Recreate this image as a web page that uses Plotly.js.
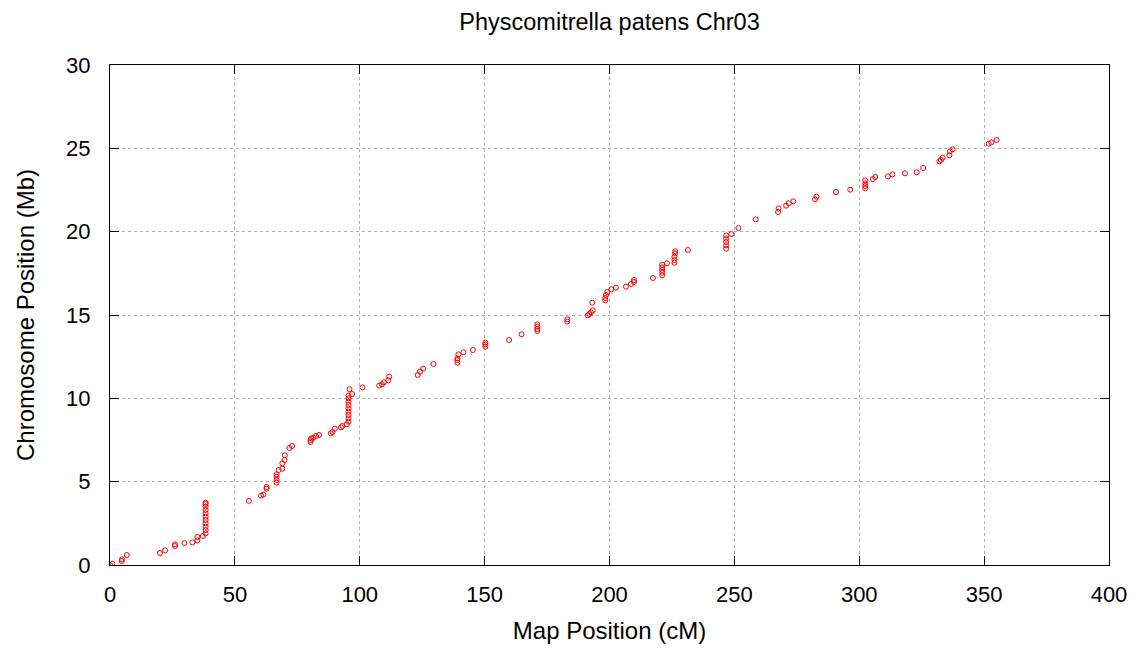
<!DOCTYPE html>
<html><head><meta charset="utf-8">
<script src="https://cdn.plot.ly/plotly-3.0.1.min.js"></script>
<style>html,body{margin:0;padding:0;background:#fff}#chart{width:1136px;height:650px}</style>
</head><body><div id="chart"></div>
<script>
const mapPos = [
 0, 1, 4.7, 4.8, 6.7, 20, 22.1, 26, 26, 29.8, 33, 35, 35, 37.2,
 38.3, 38.3, 38.3, 38.3, 38.3, 38.3, 38.3, 38.3, 38.3, 38.3, 38.3,
 55.6, 60.5, 61.4, 62.7, 62.7, 66.7, 66.7, 66.7, 66.7, 67.5, 69, 69, 69.9, 70, 71.8, 72.9,
 80.3, 80.3, 80.6, 81.4, 82.5, 83.7, 88.4, 89.1, 90, 92.5, 93, 94.8,
 95.5, 95.5, 95.5, 95.5, 95.5, 95.5, 95.5, 95.5, 95.5, 96.9, 95.9, 101.1, 107.8,
 108.9, 109.7, 111.4, 111.8, 123.2, 124.1, 125.4, 129.5,
 139.1, 139.1, 139.1, 139.5, 141.5, 145.3, 150.3, 150.3, 150.3, 159.8, 164.8,
 171.1, 171.1, 171.1, 171.1, 183.1, 183.1,
 191.3, 191.9, 192.6, 193.3, 193.1, 198.3, 198.3, 198.6, 199.1, 200.7, 202.6, 206.6,
 208.6, 209.8, 209.8, 217.4, 221.1, 221.1, 221.1, 221.1, 221.1, 223, 226, 226, 226, 226.3, 226.3, 231.4,
 246.7, 246.7, 246.7, 246.7, 246.7, 248.8, 251.6, 258.5, 267.5, 267.7, 270.7, 271.8, 273.6,
 282.3, 282.9, 290.7, 296.4, 302.4, 302.4, 302.4, 302.4, 305.4, 306.4, 311.5, 313.3, 318.3,
 323, 325.6, 332.1, 332.7, 333.4, 336.1, 336.3, 337.4, 351.8, 352.9, 355
];
const chromPos = [
 0, 0.08, 0.24, 0.34, 0.6, 0.72, 0.88, 1.14, 1.24, 1.32, 1.36, 1.48, 1.68, 1.74,
 1.9, 2.1, 2.3, 2.5, 2.7, 2.9, 3.1, 3.3, 3.5, 3.66, 3.74,
 3.85, 4.16, 4.22, 4.58, 4.68, 4.94, 5.1, 5.3, 5.44, 5.7, 5.78, 6.1, 6.3, 6.58, 7.02, 7.14,
 7.38, 7.5, 7.6, 7.64, 7.74, 7.8, 7.9, 7.98, 8.18, 8.26, 8.34, 8.44,
 8.6, 8.8, 9.0, 9.2, 9.4, 9.6, 9.8, 10.0, 10.16, 10.26, 10.55, 10.66, 10.76,
 10.84, 10.96, 11.08, 11.3, 11.4, 11.6, 11.78, 12.06,
 12.14, 12.3, 12.4, 12.64, 12.76, 12.9, 13.1, 13.24, 13.34, 13.5, 13.84,
 14.04, 14.16, 14.3, 14.44, 14.6, 14.74,
 14.98, 15.06, 15.16, 15.28, 15.74, 15.88, 16.02, 16.2, 16.38, 16.54, 16.64, 16.7,
 16.86, 16.98, 17.1, 17.22, 17.38, 17.54, 17.7, 17.86, 18.02, 18.1, 18.14, 18.3, 18.5, 18.7, 18.82, 18.9,
 18.98, 19.18, 19.38, 19.58, 19.77, 19.86, 20.22, 20.74, 21.18, 21.4, 21.56, 21.7, 21.82,
 21.94, 22.1, 22.38, 22.52, 22.6, 22.74, 22.9, 23.08, 23.16, 23.28, 23.32, 23.44, 23.5,
 23.56, 23.82, 24.22, 24.3, 24.44, 24.58, 24.82, 24.94, 25.28, 25.36, 25.5
];
const xTicks = [0, 50, 100, 150, 200, 250, 300, 350, 400];
const yTicks = [0, 5, 10, 15, 20, 25, 30];

const font = {family: 'Liberation Sans, Arial, sans-serif', color: '#000'};
const axisCommon = {
  showline: true, linecolor: '#000', linewidth: 1, mirror: 'ticks',
  ticks: 'inside', ticklen: 9, tickcolor: '#000', tickwidth: 1,
  showgrid: true, gridcolor: '#b0b0b0', griddash: 'dot', gridwidth: 1,
  zeroline: false, tickfont: Object.assign({size: 22}, font)
};
Plotly.newPlot('chart', [{
  x: mapPos, y: chromPos, type: 'scatter', mode: 'markers',
  marker: {symbol: 'circle-open', size: 5, color: '#ff0000', line: {width: 1, color: '#ff0000'}},
  hoverinfo: 'x+y'
}], {
  width: 1136, height: 650,
  margin: {l: 110, r: 27, t: 65, b: 85},
  paper_bgcolor: '#fff', plot_bgcolor: '#fff',
  showlegend: false,
  title: {text: 'Physcomitrella patens Chr03', xref: 'paper', x: 0.5, xanchor: 'center', yref: 'container', y: 0.966, yanchor: 'middle', font: Object.assign({size: 23.5}, font)},
  xaxis: Object.assign({}, axisCommon, {range: [0, 400], tickvals: xTicks, ticktext: xTicks.map(String), ticklabelstandoff: 10,
    title: {text: 'Map Position (cM)', font: Object.assign({size: 24}, font), standoff: 15}}),
  yaxis: Object.assign({}, axisCommon, {range: [0, 30], tickvals: yTicks, ticktext: yTicks.map(String), ticklabelstandoff: 14,
    title: {text: 'Chromosome Position (Mb)', font: Object.assign({size: 24}, font), standoff: 24}})
}, {staticPlot: true});
</script></body></html>
